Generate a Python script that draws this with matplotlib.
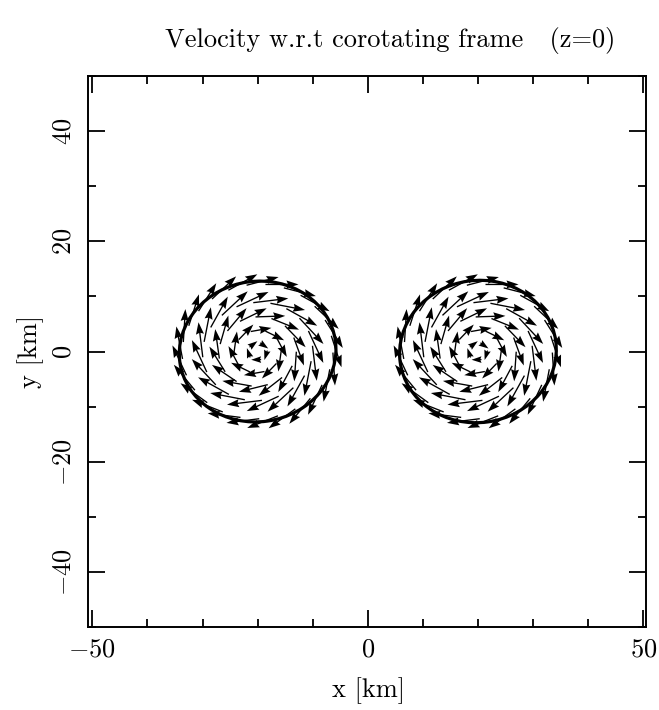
import numpy as np
import matplotlib
matplotlib.use("Agg")
import matplotlib.pyplot as plt
from matplotlib.patches import Ellipse
from matplotlib.ticker import MultipleLocator

plt.rcParams['font.family'] = 'cmr10'
plt.rcParams['mathtext.fontset'] = 'cm'
plt.rcParams['axes.formatter.use_mathtext'] = True

# stellar centres and surface outline (km)
star_x = [-20.0, 20.0]
star_y = [0.0, 0.0]
surf_width = [28.5, 28.5]
surf_height = [25.5, 25.8]
surf_angle = [8.0, 8.0]

# velocity arrows sampled on rings around each centre
ring_r = [1.5, 4.0, 6.7, 9.5, 12.8]
ring_n = [5, 10, 15, 20, 25]
ring_len = [1.8, 3.8, 5.4, 6.4, 6.0]
ring_phase = [45.0, 10.0, 0.0, 5.0, 0.0]
ring_tilt = [10.0, 18.0, 20.0, 20.0, 18.0]

xticks = [-50, 0, 50]
yticks = [-40, -20, 0, 20, 40]

fig = plt.figure(figsize=(6.59, 7.10), dpi=100)
ax = fig.add_axes([0.1335, 0.1169, 0.8467, 0.776])

for cx, cy, w, h, ang in zip(star_x, star_y, surf_width, surf_height, surf_angle):
    stretch = w / h
    px, py, pu, pv = [], [], [], []
    for r, n, L, ph, tl in zip(ring_r, ring_n, ring_len, ring_phase, ring_tilt):
        phi = np.radians(ph + np.arange(n) * 360.0 / n)
        t = np.radians(tl)
        # clockwise tangent with an outward tilt
        tx, ty = np.sin(phi), -np.cos(phi)
        rx, ry = np.cos(phi), np.sin(phi)
        px += list(cx + stretch * r * np.cos(phi))
        py += list(cy + r * np.sin(phi))
        pu += list(L * (tx * np.cos(t) + rx * np.sin(t)))
        pv += list(L * (ty * np.cos(t) + ry * np.sin(t)))
    ax.quiver(px, py, pu, pv, angles='xy', scale_units='xy', scale=1,
              pivot='middle', color='black', width=0.0024,
              headwidth=6, headlength=9, headaxislength=8, zorder=3)
    ax.add_patch(Ellipse((cx, cy), w, h, angle=ang, fill=False,
                         edgecolor='black', lw=2.3, zorder=2))

ax.set_xlim(-50.8, 50.5)
ax.set_ylim(-50, 50)
ax.set_xticks(xticks)
ax.set_yticks(yticks)
ax.xaxis.set_minor_locator(MultipleLocator(10))
ax.yaxis.set_minor_locator(MultipleLocator(10))
ax.tick_params(which='both', direction='in', top=True, right=True,
               width=1.3, labelsize=19, colors='black')
ax.tick_params(which='major', length=12)
ax.tick_params(which='minor', length=6)
ax.tick_params(axis='x', pad=8)
ax.tick_params(axis='y', labelrotation=90, pad=9)
for lab in ax.get_yticklabels():
    lab.set_va('center')
for sp in ax.spines.values():
    sp.set_linewidth(1.4)

fig.text(390 / 659, 1 - 40 / 710, 'Velocity w.r.t corotating frame   (z=0)',
         ha='center', va='center', fontsize=19)
fig.text(368 / 659, 1 - 691 / 710, 'x [km]', ha='center', va='center', fontsize=19)
fig.text(31 / 659, 1 - 351 / 710, 'y [km]', ha='center', va='center',
         rotation=90, fontsize=19)

fig.savefig('out.png', dpi=100)
